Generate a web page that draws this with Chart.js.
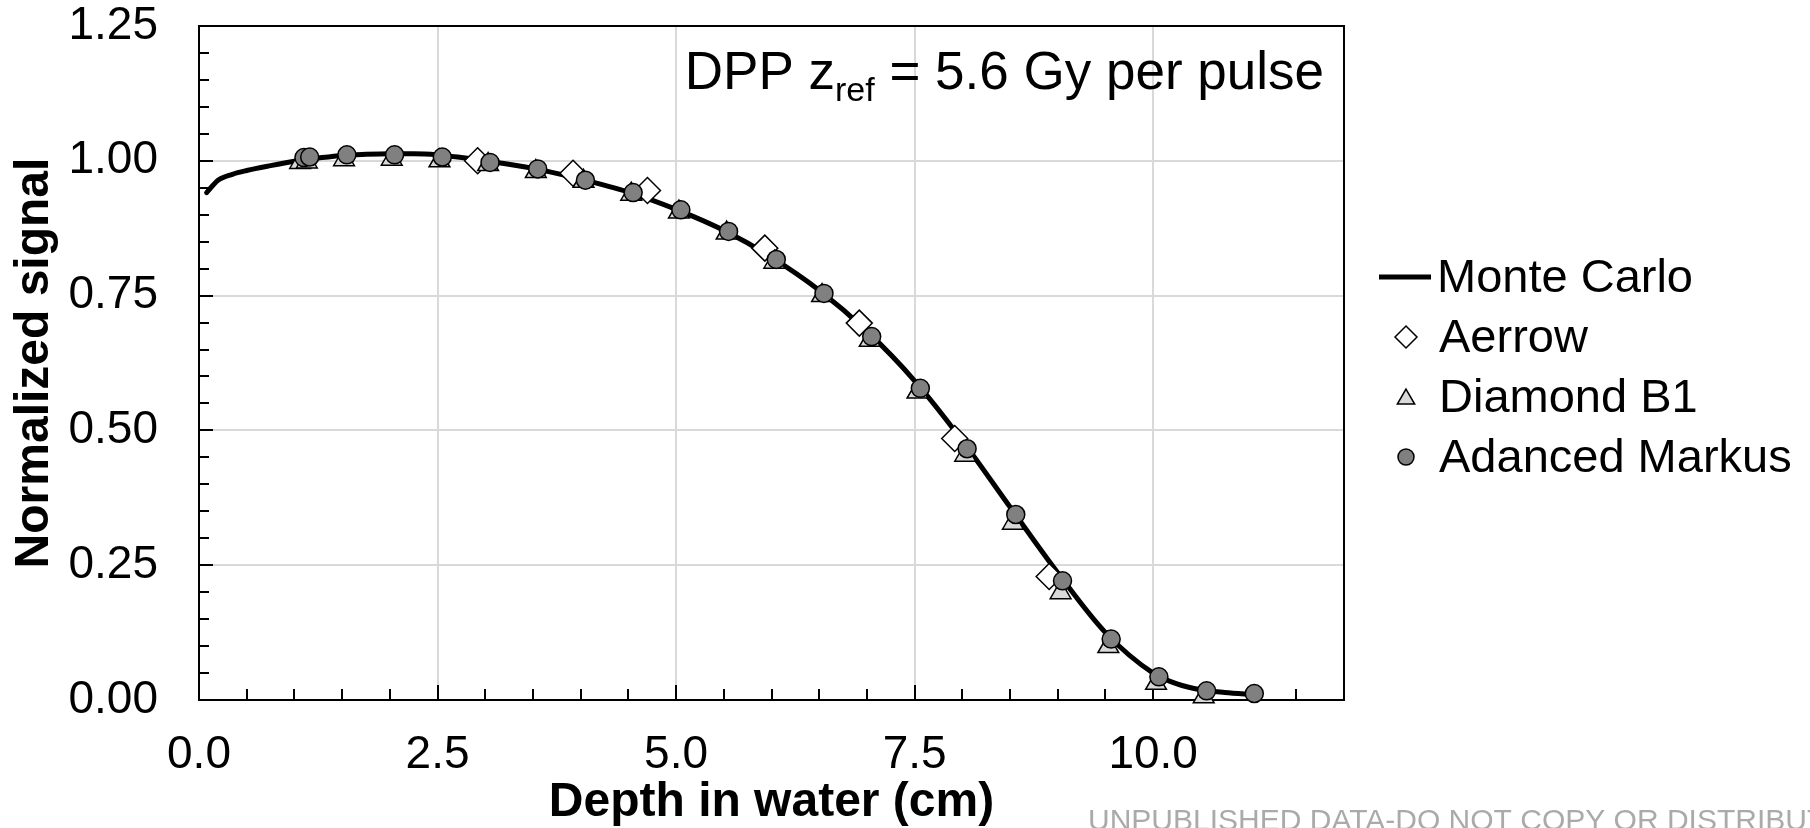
<!DOCTYPE html>
<html>
<head>
<meta charset="utf-8">
<title>Depth dose - 5.6 Gy per pulse</title>
<script src="https://cdn.jsdelivr.net/npm/chart.js@4.4.1/dist/chart.umd.min.js"></script>
<style>
  html, body { margin: 0; padding: 0; background: #fff; }
  #wrap { width: 1810px; height: 828px; }
</style>
</head>
<body>
<div id="wrap"><canvas id="pdd" width="1810" height="828"></canvas></div>
<script>
// depth in cm, signal normalized
const mcDepth  = [0.08, 0.2, 0.35, 0.5, 0.75, 1.0, 1.25, 1.5, 1.75, 2.0, 2.25, 2.5, 2.75, 3.0, 3.5, 4.0, 4.5, 5.0, 5.5, 6.0, 6.5, 7.0, 7.5, 8.0, 8.5, 9.0, 9.5, 10.0, 10.25, 10.5, 10.75, 11.06];
const mcSignal = [0.941, 0.964, 0.975, 0.982, 0.991, 0.999, 1.005, 1.010, 1.012, 1.013, 1.013, 1.011, 1.006, 1.000, 0.986, 0.966, 0.942, 0.910, 0.871, 0.821, 0.760, 0.684, 0.592, 0.481, 0.358, 0.236, 0.125, 0.050, 0.030, 0.019, 0.014, 0.010];

const aerrowDepth  = [2.92, 3.92, 4.70, 5.93, 6.92, 7.92, 8.91];
const aerrowSignal = [1.000, 0.977, 0.945, 0.838, 0.699, 0.485, 0.229];

const b1Depth  = [1.06, 1.13, 1.52, 2.02, 2.52, 3.03, 3.53, 4.03, 4.53, 5.03, 5.53, 6.03, 6.53, 7.03, 7.53, 8.03, 8.53, 9.03, 9.53, 10.03, 10.53];
const b1Signal = [0.997, 0.998, 1.002, 1.003, 1.000, 0.993, 0.980, 0.962, 0.938, 0.905, 0.866, 0.812, 0.750, 0.667, 0.571, 0.454, 0.328, 0.199, 0.099, 0.031, 0.006];

const amDepth  = [1.10, 1.16, 1.55, 2.05, 2.55, 3.05, 3.55, 4.05, 4.55, 5.05, 5.55, 6.05, 6.55, 7.05, 7.56, 8.05, 8.56, 9.05, 9.56, 10.06, 10.56, 11.06];
const amSignal = [1.006, 1.007, 1.011, 1.011, 1.007, 0.997, 0.985, 0.964, 0.941, 0.909, 0.869, 0.817, 0.754, 0.674, 0.578, 0.466, 0.344, 0.221, 0.113, 0.043, 0.017, 0.012];

const legendLabels = ['Monte Carlo', 'Aerrow', 'Diamond B1', 'Adanced Markus'];
const xTickLabels = ['0.0', '2.5', '5.0', '7.5', '10.0'];
const yTickLabels = ['0.00', '0.25', '0.50', '0.75', '1.00', '1.25'];

const FONT = '"Liberation Sans", Arial, Helvetica, sans-serif';

function pts(xs, ys) {
    return xs.map((x, i) => ({ x: x, y: ys[i] }));
}

function shape(ctx, style, x, y, r) {
    ctx.beginPath();
    if (style === 'circle') {
        ctx.arc(x, y, r, 0, Math.PI * 2);
    } else if (style === 'rectRot') {
        ctx.moveTo(x - r, y);
        ctx.lineTo(x, y - r);
        ctx.lineTo(x + r, y);
        ctx.lineTo(x, y + r);
    } else if (style === 'triangle') {
        ctx.moveTo(x, y - r);
        ctx.lineTo(x + r * 0.866, y + r / 2);
        ctx.lineTo(x - r * 0.866, y + r / 2);
    }
    ctx.closePath();
}

// scales keep their box exactly, no extra label overhang padding
function noPad(s) {
    s.paddingTop = 0;
    s.paddingBottom = 0;
    s.paddingLeft = 0;
    s.paddingRight = 0;
}

// frame, inner tick marks, annotation text, legend and watermark
const decorations = {
    id: 'decorations',
    beforeDatasetsDraw(chart) {
        const ctx = chart.ctx;
        const a = chart.chartArea;
        const xs = chart.scales.x, ys = chart.scales.y;
        ctx.save();
        ctx.strokeStyle = '#000';
        ctx.lineWidth = 2;
        ctx.beginPath();
        for (let i = 1; i < 25; i++) {
            const v = i * 0.05;
            const py = Math.round(ys.getPixelForValue(v));
            const len = (i % 5 === 0) ? 14 : 10;
            ctx.moveTo(a.left, py);
            ctx.lineTo(a.left + len, py);
        }
        for (let i = 1; i < 24; i++) {
            const v = i * 0.5;
            const px = Math.round(xs.getPixelForValue(v));
            const len = (i % 5 === 0) ? 15 : 11;
            ctx.moveTo(px, a.bottom);
            ctx.lineTo(px, a.bottom - len);
        }
        ctx.stroke();
        // top and right edges of the plot box
        ctx.beginPath();
        ctx.moveTo(a.left, a.top);
        ctx.lineTo(a.right, a.top);
        ctx.lineTo(a.right, a.bottom);
        ctx.stroke();
        ctx.restore();
    },
    afterDraw(chart) {
        const ctx = chart.ctx;
        ctx.save();
        ctx.fillStyle = '#000';
        ctx.textBaseline = 'alphabetic';

        // DPP z_ref annotation, right aligned inside the plot
        const big = '53px ' + FONT, small = '34px ' + FONT;
        const p1 = 'DPP z', p2 = 'ref', p3 = ' = 5.6 Gy per pulse';
        ctx.font = big;
        const w1 = ctx.measureText(p1).width, w3 = ctx.measureText(p3).width;
        ctx.font = small;
        const w2 = ctx.measureText(p2).width;
        let x = 1324 - (w1 + w2 + w3);
        const base = 89;
        ctx.font = big; ctx.fillText(p1, x, base); x += w1;
        ctx.font = small; ctx.fillText(p2, x, base + 12); x += w2;
        ctx.font = big; ctx.fillText(p3, x, base);

        // legend
        const rows = [277, 337, 397, 457];
        const symX = 1406;
        ctx.font = '47px ' + FONT;
        ctx.textBaseline = 'middle';
        chart.data.datasets.forEach((ds, i) => {
            const y = rows[i];
            if (i === 0) {
                ctx.strokeStyle = ds.borderColor;
                ctx.lineWidth = 5;
                ctx.beginPath();
                ctx.moveTo(1379, y);
                ctx.lineTo(1431, y);
                ctx.stroke();
            } else {
                const r = ds.pointStyle === 'rectRot' ? 11 : (ds.pointStyle === 'triangle' ? 10 : 8);
                shape(ctx, ds.pointStyle, symX, y + (ds.pointStyle === 'triangle' ? 2 : 0), r);
                ctx.fillStyle = ds.pointBackgroundColor;
                ctx.fill();
                ctx.lineWidth = 1.5;
                ctx.strokeStyle = '#000';
                ctx.stroke();
            }
            ctx.fillStyle = '#000';
            ctx.fillText(ds.label, i === 0 ? 1437 : 1439, y + 2);
        });

        // watermark (runs off the right edge like the original)
        ctx.font = '30px ' + FONT;
        ctx.fillStyle = '#aaaaaa';
        ctx.textBaseline = 'alphabetic';
        ctx.fillText('UNPUBLISHED DATA-DO NOT COPY OR DISTRIBUTE', 1088, 830);
        ctx.restore();
    }
};

const ctx = document.getElementById('pdd').getContext('2d');
const chart = new Chart(ctx, {
    type: 'line',
    data: {
        datasets: [{
            label: legendLabels[0],
            data: pts(mcDepth, mcSignal),
            borderColor: '#000',
            borderWidth: 5,
            pointRadius: 0,
            cubicInterpolationMode: 'monotone',
            borderJoinStyle: 'round',
            borderCapStyle: 'round',
            fill: false,
            order: 4
        }, {
            label: legendLabels[1],
            data: pts(aerrowDepth, aerrowSignal),
            showLine: false,
            pointStyle: 'rectRot',
            pointRadius: 13,
            pointBackgroundColor: '#ffffff',
            pointBorderColor: '#000',
            pointBorderWidth: 1.5,
            clip: false,
            order: 3
        }, {
            label: legendLabels[2],
            data: pts(b1Depth, b1Signal),
            showLine: false,
            pointStyle: 'triangle',
            pointRadius: 12,
            pointBackgroundColor: '#d9d9d9',
            pointBorderColor: '#000',
            pointBorderWidth: 1.5,
            clip: false,
            order: 2
        }, {
            label: legendLabels[3],
            data: pts(amDepth, amSignal),
            showLine: false,
            pointStyle: 'circle',
            pointRadius: 9,
            pointBackgroundColor: '#808080',
            pointBorderColor: '#000',
            pointBorderWidth: 1.5,
            clip: false,
            order: 1
        }]
    },
    options: {
        responsive: false,
        animation: false,
        events: [],
        layout: { padding: { top: 26, right: 466, left: 0, bottom: 0 } },
        plugins: {
            legend: { display: false },
            tooltip: { enabled: false },
            title: { display: false }
        },
        scales: {
            x: {
                type: 'linear',
                min: 0,
                max: 12,
                bounds: 'data',
                afterFit: (s) => { s.height = 128; noPad(s); },
                grid: { color: '#d9d9d9', lineWidth: 2, drawTicks: false },
                border: { color: '#000', width: 2 },
                ticks: {
                    stepSize: 2.5,
                    includeBounds: false,
                    padding: 28,
                    color: '#000',
                    font: { family: FONT, size: 46 },
                    maxRotation: 0,
                    callback: (v) => xTickLabels[Math.round(v / 2.5)]
                },
                title: {
                    display: true,
                    text: 'Depth in water (cm)',
                    color: '#000',
                    font: { family: FONT, size: 48, weight: 'bold', lineHeight: 1 },
                    padding: { top: 0, bottom: 1 }
                }
            },
            y: {
                type: 'linear',
                min: 0,
                max: 1.25,
                afterFit: (s) => { s.width = 199; noPad(s); },
                grid: { color: '#d9d9d9', lineWidth: 2, drawTicks: false },
                border: { color: '#000', width: 2 },
                ticks: {
                    stepSize: 0.25,
                    padding: 41,
                    color: '#000',
                    font: { family: FONT, size: 46 },
                    callback: (v) => yTickLabels[Math.round(v / 0.25)]
                },
                title: {
                    display: true,
                    text: 'Normalized signal',
                    color: '#000',
                    font: { family: FONT, size: 48, weight: 'bold', lineHeight: 1 },
                    padding: { top: 11, bottom: 0 }
                }
            }
        }
    },
    plugins: [decorations]
});
</script>
</body>
</html>
